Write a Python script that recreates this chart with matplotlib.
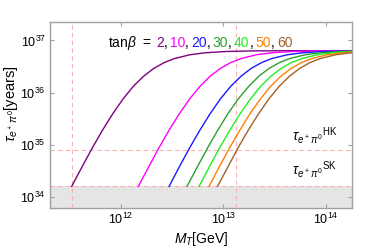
import matplotlib
matplotlib.use("Agg")
import matplotlib.pyplot as plt

plt.rcParams['font.family'] = ['Liberation Sans', 'DejaVu Sans']
plt.rcParams['mathtext.fontset'] = 'custom'
plt.rcParams['mathtext.rm'] = 'Liberation Sans'
plt.rcParams['mathtext.it'] = 'Liberation Sans:italic'
plt.rcParams['mathtext.bf'] = 'Liberation Sans:bold'

# proton lifetime tau(e+ pi0) in years, same sampling for every curve
tau_years = [1.60e34, 3.78e34, 8.71e34, 1.91e35, 3.96e35, 7.59e35, 1.32e36,
             2.07e36, 2.92e36, 3.77e36, 4.51e36, 5.32e36, 5.82e36, 6.15e36,
             6.31e36, 6.37e36, 6.38e36, 6.38e36]

# triplet Higgs mass M_T in GeV for each tan(beta)
mt_tb2 = [3.35e11, 4.22e11, 5.31e11, 6.68e11, 8.41e11, 1.06e12, 1.33e12, 1.68e12,
          2.11e12, 2.66e12, 3.35e12, 4.73e12, 6.68e12, 1.06e13, 1.88e13, 4.22e13,
          1.06e14, 3.35e14]
mt_tb10 = [1.49e12, 1.88e12, 2.36e12, 2.97e12, 3.74e12, 4.71e12, 5.93e12, 7.46e12,
           9.40e12, 1.18e13, 1.49e13, 2.10e13, 2.97e13, 4.71e13, 8.38e13, 1.88e14]
mt_tb20 = [2.97e12, 3.73e12, 4.70e12, 5.92e12, 7.45e12, 9.38e12, 1.18e13, 1.49e13,
           1.87e13, 2.36e13, 2.97e13, 4.19e13, 5.92e13, 9.38e13, 1.67e14, 3.73e14]
mt_tb30 = [4.44e12, 5.59e12, 7.03e12, 8.85e12, 1.11e13, 1.40e13, 1.77e13, 2.22e13,
           2.80e13, 3.52e13, 4.44e13, 6.27e13, 8.85e13, 1.40e14, 2.49e14]
mt_tb40 = [5.81e12, 7.31e12, 9.20e12, 1.16e13, 1.46e13, 1.84e13, 2.31e13, 2.91e13,
           3.66e13, 4.61e13, 5.81e13, 8.20e13, 1.16e14, 1.84e14]
mt_tb50 = [7.26e12, 9.14e12, 1.15e13, 1.45e13, 1.82e13, 2.30e13, 2.89e13, 3.64e13,
           4.58e13, 5.77e13, 7.26e13, 1.03e14, 1.45e14, 2.30e14]
mt_tb60 = [8.79e12, 1.11e13, 1.39e13, 1.75e13, 2.21e13, 2.78e13, 3.50e13, 4.41e13,
           5.55e13, 6.98e13, 8.79e13, 1.24e14, 1.75e14, 2.78e14]

tanb_labels = ["2", "10", "20", "30", "40", "50", "60"]
colors = ["#800080", "#FF00FF", "#1A1AFF", "#2CA02C", "#22EE22", "#FF8000", "#A0632A"]

tau_sk = 1.6e34   # Super-K bound
tau_hk = 7.8e34   # Hyper-K reach
mt_marks = [3.35e11, 1.34e13]

W, H = 374, 248
fig = plt.figure(figsize=(W / 100, H / 100), dpi=100)
ax = fig.add_axes([0.1337, 0.1613, 0.8075, 0.75])
ax.set_xscale("log")
ax.set_yscale("log")
ax.set_xlim(2.06e11, 1.79e14)
ax.set_ylim(6.17e33, 2.26e37)

# excluded region
ax.axhspan(6.17e33, tau_sk, color="#E5E5E5", lw=0, zorder=0)

dash = dict(color="#FFB0B0", lw=0.8, ls=(0, (4, 3)), zorder=1)
ax.axhline(tau_sk, **dash)
ax.axhline(tau_hk, **dash)
for m in mt_marks:
    ax.axvline(m, **dash)

curves = [mt_tb2, mt_tb10, mt_tb20, mt_tb30, mt_tb40, mt_tb50, mt_tb60]
for mt, c in zip(curves, colors):
    ax.plot(mt, tau_years[:len(mt)], color=c, lw=1.0, zorder=3)

# frame and ticks
for sp in ax.spines.values():
    sp.set_color("#A0A0A0")
    sp.set_linewidth(1.0)
ax.tick_params(which="major", direction="in", length=3, width=0.8, color="#A0A0A0",
               top=True, right=True, labelsize=9, pad=3)
ax.tick_params(which="minor", length=0)
ax.set_xticks([1e12, 1e13, 1e14])
ax.set_yticks([1e34, 1e35, 1e36, 1e37])

ax.set_xlabel(r"$M_T$[GeV]", fontsize=10, labelpad=2)
ax.set_ylabel(r"$\tau_{e^+\,\pi^0}$[years]", fontsize=10.5, labelpad=2)
ax.yaxis.set_label_coords(-0.10, 0.56)

# coloured tan(beta) list, placed piece by piece in pixels
renderer = fig.canvas.get_renderer()
pieces = [(r"tan$\beta$", "black", 0), ("=", "black", 5)]
for i, (lab, c) in enumerate(zip(tanb_labels, colors)):
    pieces.append((lab, c, 6 if i == 0 else 2.2))
    if i < len(tanb_labels) - 1:
        pieces.append((",", "black", 0))
x = 108.0
y_base = 248 - 47
for txt, c, gap in pieces:
    x += gap
    t = fig.text(x / W, y_base / H, txt, fontsize=10, color=c, va="baseline", ha="left")
    x = t.get_window_extent(renderer).x1

ax.text(0.80, 0.365, r"$\tau_{e^+\,\pi^0}{}^{\mathrm{HK}}$", transform=ax.transAxes,
        fontsize=10, va="baseline", ha="left")
ax.text(0.80, 0.178, r"$\tau_{e^+\,\pi^0}{}^{\mathrm{SK}}$", transform=ax.transAxes,
        fontsize=10, va="baseline", ha="left")

fig.savefig("out.png", dpi=100)
